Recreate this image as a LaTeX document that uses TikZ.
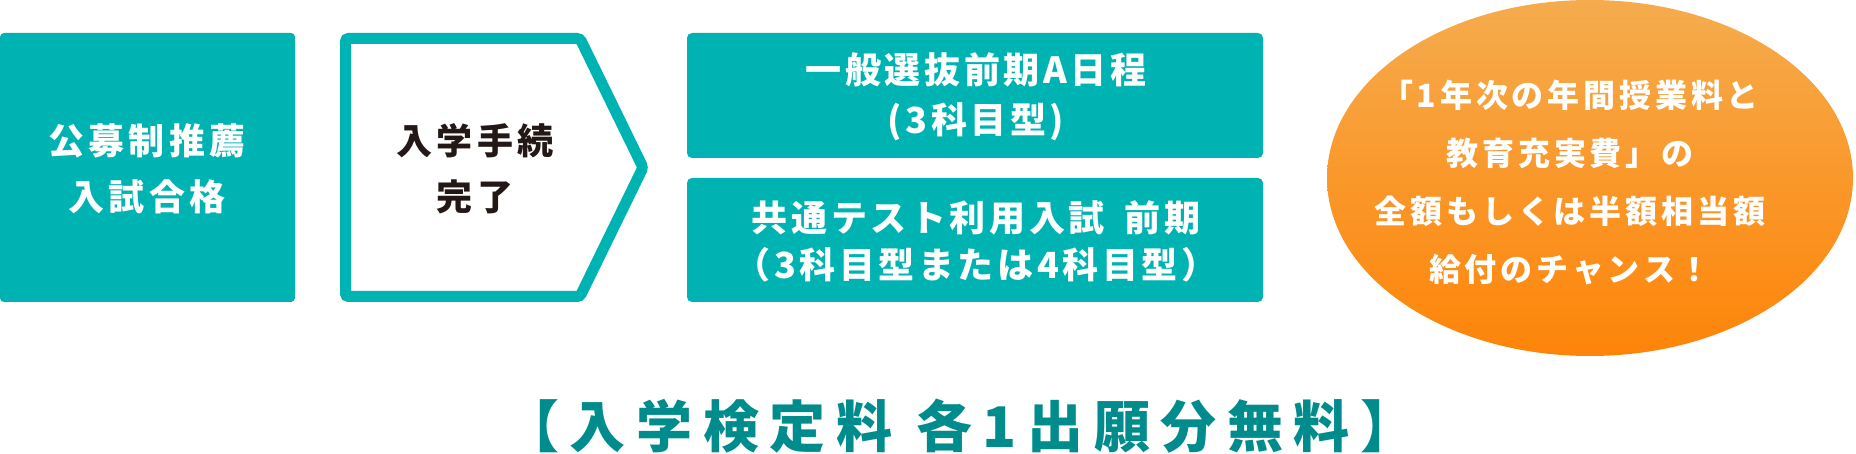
\documentclass[tikz,border=0pt]{standalone}
\usepackage{fontspec}
\setmainfont{Noto Sans CJK JP}
\definecolor{tealbox}{RGB}{0,179,179}
\definecolor{darkteal}{RGB}{0,140,140}
\definecolor{inkblack}{RGB}{35,24,21}
\definecolor{orangetop}{RGB}{245,172,78}
\definecolor{orangebot}{RGB}{254,132,8}
\tikzset{
  boxtext/.style={align=center, inner sep=0pt,
    font=\fontsize{36}{56}\selectfont\bfseries\addfontfeature{LetterSpace=12}},
  examtext/.style={boxtext, text=white,
    font=\fontsize{36}{50}\selectfont\bfseries\addfontfeature{LetterSpace=10}},
  bonustext/.style={align=center, inner sep=0pt, text=white,
    font=\fontsize{32}{58}\selectfont\bfseries\addfontfeature{LetterSpace=12}}
}
\begin{document}
\begin{tikzpicture}[x=1pt, y=-1pt]
        \useasboundingbox (0,0) rectangle (1856,454);
        % left box and arrow
        \fill[tealbox, rounded corners=4pt] (0,33) rectangle (295,302);
        \draw[tealbox, line width=11pt, rounded corners=3pt]
            (345.5,38.5) -- (580,38.5) -- (643,167.5) -- (580,296.5) -- (345.5,296.5) -- cycle;
        \node[boxtext, text=white] (recpass) at (147,169) {公募制推薦\\入試合格};
        \node[boxtext, text=inkblack] (procedure) at (475,169) {入学手続\\完了};
        % exam boxes
        \fill[tealbox, rounded corners=5pt] (687,33) rectangle (1263,158);
        \fill[tealbox, rounded corners=5pt] (687,178) rectangle (1263,302);
        \node[examtext] (generala) at (976,97) {一般選抜前期A日程\\(3科目型)};
        \node[examtext, font=\fontsize{36}{47}\selectfont\bfseries\addfontfeature{LetterSpace=10}]
            (commontest) at (976,241) {共通テスト利用入試\hspace{8pt} 前期\\（3科目型または4科目型）};
        % scholarship bubble
        \shade[top color=orangetop, bottom color=orangebot]
            (1590,178) ellipse [x radius=263, y radius=178];
        \node[bonustext] (bonus) at (1570,183)
            {「1年次の年間授業料と\\教育充実費」の\\全額もしくは半額相当額\\給付のチャンス！};
        % fee note
        \node[inner sep=0pt, text=darkteal,
            font=\fontsize{56}{56}\selectfont\bfseries\addfontfeature{LetterSpace=19}]
            (feefree) at (960,426) {【入学検定料 各1出願分無料】};
\end{tikzpicture}
\end{document}
